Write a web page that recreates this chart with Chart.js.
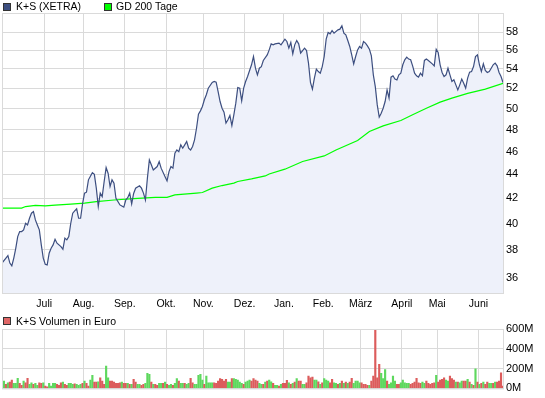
<!DOCTYPE html>
<html>
<head>
<meta charset="utf-8">
<script src="https://cdn.jsdelivr.net/npm/chart.js@4"></script>
<style>
  body { margin: 0; background: #fff; font-family: "Liberation Sans", Arial, sans-serif; }
  #wrap { position: relative; width: 545px; height: 398px; overflow: hidden; }
  canvas { position: absolute; left: 0; }
  .lg { position: absolute; font-size: 10.5px; line-height: 13px; color: #000; white-space: nowrap; }
  .sq { position: absolute; width: 6px; height: 6px; border: 1px solid #333; }
</style>
</head>
<body>
<div id="wrap">
  <canvas id="priceChart" width="545" height="310" style="top:0"></canvas>
  <canvas id="volChart" width="545" height="88" style="top:310px"></canvas>
  <span class="sq" style="left:3px;top:3px;background:#3d4f80"></span>
  <div class="lg" style="left:16px;top:0">K+S (XETRA)</div>
  <span class="sq" style="left:104px;top:3px;background:#00ff00"></span>
  <div class="lg" style="left:116px;top:0">GD 200 Tage</div>
  <span class="sq" style="left:3px;top:317px;background:#e06666"></span>
  <div class="lg" style="left:16px;top:315px">K+S Volumen in Euro</div>
</div>
<script>
// trading day index (0 = first day shown) of the first day in each month
const monthNames = ['Juli', 'Aug.', 'Sep.', 'Okt.', 'Nov.', 'Dez.', 'Jan.', 'Feb.', 'März', 'April', 'Mai', 'Juni'];
const monthStart = [22, 42, 63, 84, 103, 124, 144, 164, 183, 204, 222, 243];
const priceTicks = [36, 38, 40, 42, 44, 46, 48, 50, 52, 54, 56, 58];
const volTicks = [0, 200, 400, 600];

// K+S (XETRA) closing prices
const priceDay = [0, 2, 3, 4, 5, 6, 7, 8, 9, 10, 11, 12, 13, 14, 15, 16, 17, 18, 19, 20,
  21, 22, 23, 24, 25, 26, 27, 28, 30, 31, 32, 33, 34, 35, 36, 37, 38, 39, 40, 41,
  42, 43, 44, 46, 47, 48, 49, 50, 51, 52, 53, 54, 55, 56, 57, 58, 60, 61, 62, 63,
  64, 65, 66, 67, 68, 70, 71, 72, 73, 74, 75, 76, 77, 79, 80, 81, 83, 84, 85, 86,
  87, 88, 89, 90, 91, 92, 93, 94, 95, 96, 97, 98, 99, 100, 101, 102, 103, 104, 105, 107,
  108, 109, 110, 111, 112, 113, 114, 115, 116, 117, 118, 119, 120, 121, 122, 123, 124, 125, 127, 128,
  129, 130, 131, 132, 133, 135, 136, 137, 138, 139, 141, 142, 144, 145, 146, 147, 148, 149, 150, 151,
  152, 153, 154, 155, 156, 157, 158, 159, 160, 161, 162, 163, 164, 165, 166, 167, 168, 169, 171, 172,
  173, 174, 175, 176, 177, 178, 179, 180, 181, 182, 183, 184, 185, 186, 187, 188, 189, 190, 191, 192,
  193, 194, 195, 196, 197, 198, 199, 200, 201, 202, 203, 204, 205, 206, 207, 208, 209, 210, 211, 212,
  213, 214, 215, 216, 217, 219, 220, 221, 222, 223, 224, 225, 226, 227, 228, 229, 230, 231, 232, 233,
  234, 235, 236, 237, 238, 239, 240, 241, 242, 243, 244, 245, 246, 247, 248, 249, 250, 251, 252, 253,
  254, 255];
const price = [37.04, 37.40, 37.58, 37.04, 36.84, 37.40, 38.12, 39.00, 39.38, 39.38, 39.51, 40.02, 39.89, 40.41, 40.81, 40.94, 40.28, 39.89, 39.51, 38.37,
  37.40, 36.96, 36.91, 37.76, 38.12, 38.37, 38.80, 38.50, 38.24, 38.05, 38.88, 38.75, 39.00, 40.02, 40.81, 41.00, 41.16, 40.41, 40.41, 41.55,
  42.43, 42.51, 43.54, 44.15, 44.01, 42.84, 41.34, 42.43, 42.14, 43.40, 44.59, 44.10, 42.98, 43.54, 43.26, 42.01, 41.47, 41.39, 41.29, 41.87,
  42.05, 42.43, 41.55, 42.40, 42.84, 43.04, 42.84, 42.43, 41.87, 43.68, 45.26, 44.83, 44.39, 44.68, 45.12, 44.54, 43.81, 43.45, 44.24, 44.68,
  44.54, 45.85, 46.14, 45.99, 46.60, 46.30, 46.60, 46.90, 46.30, 46.14, 46.45, 47.06, 48.13, 49.46, 49.78, 50.20, 50.86, 51.36, 52.02, 52.60,
  52.70, 52.64, 51.68, 50.69, 50.04, 49.66, 48.61, 48.92, 49.33, 48.38, 49.40, 50.53, 52.08, 52.02, 50.76, 52.02, 52.70, 53.21, 54.44, 55.32,
  54.08, 53.39, 54.08, 54.25, 54.90, 55.50, 56.04, 56.70, 56.59, 56.70, 56.78, 56.59, 57.22, 56.96, 56.23, 56.85, 55.61, 56.59, 57.07, 56.70,
  55.69, 55.96, 56.23, 55.96, 54.62, 52.60, 51.92, 53.05, 53.98, 53.73, 53.56, 54.25, 55.32, 57.22, 57.96, 57.81, 58.18, 57.89, 58.26, 58.34,
  58.72, 57.89, 57.70, 57.07, 56.41, 55.50, 54.54, 55.32, 56.04, 56.41, 56.23, 56.96, 56.78, 56.48, 56.12, 55.39, 53.39, 52.18, 50.36, 49.18,
  49.56, 50.04, 50.69, 51.85, 51.03, 53.15, 53.29, 52.95, 52.87, 53.39, 53.56, 54.44, 54.97, 55.26, 55.05, 54.97, 54.33, 53.56, 53.29, 53.15,
  53.56, 53.29, 54.90, 55.05, 54.90, 54.54, 54.33, 56.11, 55.75, 54.44, 53.63, 53.21, 53.39, 54.08, 53.39, 52.70, 52.88, 52.36, 51.85, 52.36,
  52.95, 52.53, 52.02, 53.05, 53.67, 53.73, 54.25, 55.32, 55.50, 54.44, 53.73, 54.54, 53.84, 53.63, 53.73, 54.08, 54.44, 54.62, 54.33, 53.63,
  53.21, 52.60];

// 200-day moving average
const gdDay = [0, 10, 12, 17, 22, 27, 35, 42, 48, 57, 67, 78, 84, 88, 99, 102, 107, 112, 118, 120,
  127, 134, 136, 144, 153, 164, 170, 181, 187, 194, 203, 209, 216, 223, 229, 237, 246, 255];
const gd200 = [41.21, 41.21, 41.34, 41.43, 41.40, 41.45, 41.53, 41.61, 41.74, 41.87, 41.98, 42.09, 42.09, 42.28, 42.43, 42.48, 42.84, 43.06, 43.26, 43.40,
  43.62, 43.87, 44.04, 44.45, 45.12, 45.61, 46.14, 46.99, 47.82, 48.35, 48.86, 49.40, 50.04, 50.63, 51.03, 51.50, 51.92, 52.51];

// daily turnover in million euro, one per trading day; volUp 1 = up day, 0 = down day
const volume = [64, 74, 40, 57, 64, 84, 50, 50, 101, 50, 30, 74, 57, 101, 40, 57, 40, 50, 30, 57,
  50, 57, 23, 17, 50, 23, 50, 50, 40, 30, 57, 64, 40, 30, 50, 50, 40, 47, 40, 30,
  40, 50, 74, 50, 23, 84, 131, 64, 64, 67, 108, 74, 40, 225, 108, 74, 74, 64, 50, 50,
  57, 64, 50, 50, 50, 40, 40, 91, 64, 40, 40, 30, 40, 50, 151, 141, 64, 40, 40, 30,
  50, 50, 50, 64, 40, 30, 40, 30, 50, 98, 74, 50, 50, 50, 40, 50, 101, 57, 40, 40,
  131, 141, 84, 40, 124, 57, 57, 57, 57, 50, 74, 98, 91, 74, 91, 64, 64, 98, 98, 91,
  84, 64, 50, 40, 64, 74, 84, 74, 98, 84, 74, 50, 40, 40, 64, 74, 84, 67, 50, 30,
  30, 23, 40, 50, 50, 81, 57, 40, 50, 64, 98, 74, 74, 40, 40, 57, 124, 108, 114, 84,
  84, 67, 40, 57, 98, 84, 74, 57, 91, 57, 50, 40, 50, 74, 50, 64, 50, 64, 101, 50,
  74, 74, 57, 57, 40, 40, 30, 30, 74, 124, 596, 108, 242, 151, 98, 191, 74, 40, 57, 124,
  74, 40, 40, 57, 84, 57, 50, 50, 40, 50, 64, 101, 57, 50, 64, 50, 74, 50, 40, 50,
  57, 131, 64, 84, 91, 108, 84, 74, 124, 98, 84, 64, 64, 57, 74, 74, 74, 91, 64, 40,
  30, 198, 64, 40, 50, 64, 40, 64, 50, 50, 50, 64, 64, 74, 158, 23];
const volUp = [1, 1, 0, 1, 0, 0, 1, 1, 1, 0, 0, 1, 0, 0, 1, 1, 0, 1, 1, 0,
  0, 1, 0, 0, 1, 1, 1, 1, 0, 0, 0, 1, 0, 0, 1, 1, 1, 0, 1, 1,
  1, 0, 1, 0, 0, 1, 1, 0, 0, 1, 0, 0, 0, 1, 1, 0, 0, 0, 0, 0,
  0, 1, 0, 0, 1, 0, 1, 0, 0, 1, 1, 0, 0, 1, 1, 1, 0, 1, 0, 0,
  1, 1, 0, 1, 0, 1, 1, 0, 1, 1, 0, 1, 1, 0, 1, 1, 0, 0, 1, 1,
  1, 1, 1, 0, 1, 1, 1, 1, 0, 0, 0, 0, 0, 0, 0, 1, 1, 0, 1, 1,
  1, 1, 1, 0, 1, 1, 1, 0, 0, 0, 0, 1, 1, 0, 1, 0, 1, 1, 0, 1,
  1, 0, 1, 0, 0, 0, 1, 0, 1, 0, 1, 0, 0, 1, 1, 0, 0, 0, 0, 1,
  1, 0, 1, 0, 1, 1, 1, 0, 0, 1, 1, 0, 1, 0, 1, 0, 1, 0, 0, 1,
  1, 1, 1, 0, 0, 0, 0, 1, 0, 0, 0, 0, 0, 1, 1, 1, 0, 1, 1, 1,
  1, 0, 0, 1, 1, 1, 1, 1, 0, 0, 0, 0, 0, 0, 1, 1, 0, 0, 0, 0,
  0, 1, 0, 0, 0, 0, 1, 1, 0, 0, 0, 1, 0, 1, 1, 0, 0, 1, 0, 1,
  0, 1, 0, 1, 0, 1, 0, 0, 1, 1, 0, 1, 0, 0, 0, 0];

const gridColor = '#dadada';
const tickFont = { family: '"Liberation Sans", Arial, sans-serif', size: 11 };
const monthFont = { family: '"Liberation Sans", Arial, sans-serif', size: 10.5 };
const monthGrid = monthStart.map(d => d - 0.5); // lines sit between last and first day

// grey box round the plot area
const framePlugin = {
  id: 'frame',
  afterDraw(chart) {
    const a = chart.chartArea;
    const ctx = chart.ctx;
    ctx.save();
    ctx.strokeStyle = gridColor;
    ctx.lineWidth = 1;
    ctx.strokeRect(a.left + 0.5, a.top + 0.5, a.right - a.left, a.bottom - a.top);
    ctx.restore();
  }
};

function monthAxis(showLabels, height) {
  return {
    type: 'linear', min: 0, max: 255, offset: false,
    afterBuildTicks: s => { s.ticks = monthGrid.map(v => ({ value: v })); },
    afterFit: s => { s.height = height; },
    grid: { color: gridColor, drawTicks: false, offset: false },
    border: { display: false },
    ticks: {
      display: showLabels, autoSkip: false, maxRotation: 0, padding: 5,
      font: monthFont, color: '#000',
      callback: v => monthNames[monthGrid.indexOf(v)]
    }
  };
}

new Chart(document.getElementById('priceChart'), {
  type: 'line',
  data: {
    datasets: [{
      label: 'K+S (XETRA)',
      data: priceDay.map((d, i) => ({ x: d, y: price[i] })),
      borderColor: '#3d4f80',
      borderWidth: 1.2,
      backgroundColor: '#eef1fa',
      fill: 'start',
      pointRadius: 0,
      tension: 0,
      order: 0
    }, {
      label: 'GD 200 Tage',
      data: gdDay.map((d, i) => ({ x: d, y: gd200[i] })),
      borderColor: '#00ff00',
      borderWidth: 1.2,
      fill: false,
      pointRadius: 0,
      tension: 0,
      order: 1
    }]
  },
  options: {
    responsive: false,
    animation: false,
    events: [],
    layout: { padding: { left: 2, top: 13, right: 0, bottom: 0 } },
    plugins: {
      legend: { display: false },
      tooltip: { enabled: false },
      filler: { drawTime: 'beforeDatasetsDraw' }
    },
    scales: {
      x: monthAxis(true, 17),
      y: {
        type: 'logarithmic', position: 'right', min: 34.95, max: 60.2,
        afterBuildTicks: s => { s.ticks = priceTicks.map(v => ({ value: v })); },
        afterFit: s => { s.width = 42; },
        grid: { color: gridColor, drawTicks: false },
        border: { display: false },
        ticks: { autoSkip: false, padding: 3, font: tickFont, color: '#000', callback: v => String(v) }
      }
    }
  },
  plugins: [framePlugin]
});

new Chart(document.getElementById('volChart'), {
  type: 'bar',
  data: {
    datasets: [{
      label: 'K+S Volumen in Euro',
      data: volume.map((v, i) => ({ x: i, y: v })),
      backgroundColor: volUp.map(u => u ? '#5ed85e' : '#dc5c5c'),
      barThickness: 1.5,
      borderWidth: 0
    }]
  },
  options: {
    responsive: false,
    animation: false,
    events: [],
    layout: { padding: { left: 2, top: 19, right: 0, bottom: 0 } },
    plugins: { legend: { display: false }, tooltip: { enabled: false } },
    scales: {
      x: monthAxis(false, 9),
      y: {
        position: 'right', min: 0, max: 600,
        afterBuildTicks: s => { s.ticks = volTicks.map(v => ({ value: v })); },
        afterFit: s => { s.width = 42; },
        grid: { color: gridColor, drawTicks: false },
        border: { display: false },
        ticks: { autoSkip: false, padding: 3, font: tickFont, color: '#000', callback: v => v + 'M' }
      }
    }
  },
  plugins: [framePlugin]
});
</script>
</body>
</html>
